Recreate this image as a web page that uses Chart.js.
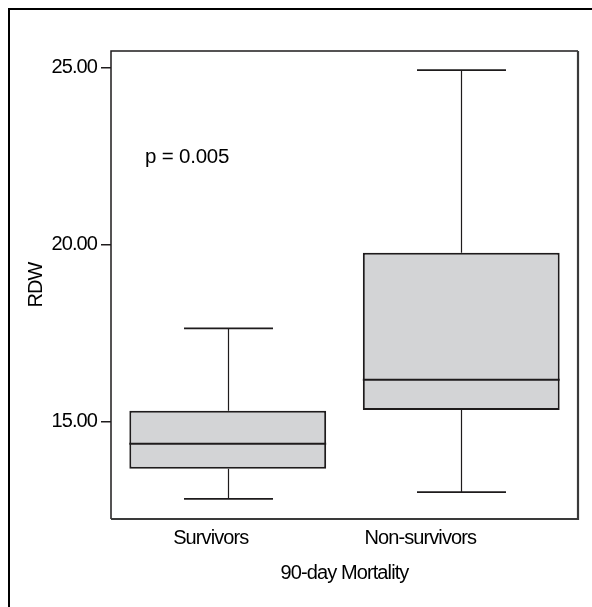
<!DOCTYPE html>
<html>
<head>
<meta charset="utf-8">
<title>RDW by 90-day Mortality</title>
<script src="https://cdn.jsdelivr.net/npm/chart.js@4/dist/chart.umd.min.js"></script>
<style>
  html, body { margin: 0; padding: 0; background: #fff; }
  #wrap { width: 592px; height: 607px; }
</style>
</head>
<body>
<div id="wrap"><canvas id="c" width="592" height="607"></canvas></div>
<script>
// RDW distribution per outcome group
const groups       = ['Survivors', 'Non-survivors'];
const whiskerLow   = [12.82, 13.01];
const quartile1    = [13.67, 15.33];
const medians      = [14.38, 16.19];
const quartile3    = [15.31, 19.78];
const whiskerHigh  = [17.64, 24.94];
const yTicks       = [15, 20, 25];
const pText        = 'p = 0.005';
const pTextLevel   = 22.3;

const INK = '#1e1b1c';
const TEXT = '#000';
const FONT = "'Liberation Sans', Arial, Helvetica, sans-serif";

const boxPlotMarks = {
  id: 'boxPlotMarks',
  beforeDraw(chart) {
    const ctx = chart.ctx;
    // tighter tracking gives the narrow look of the labels
    ctx.letterSpacing = '-0.9px';
    // panel border (left and top)
    ctx.save();
    ctx.strokeStyle = '#000';
    ctx.lineWidth = 2;
    ctx.beginPath();
    ctx.moveTo(9, chart.height);
    ctx.lineTo(9, 9);
    ctx.lineTo(chart.width, 9);
    ctx.stroke();
    ctx.restore();
  },
  afterDatasetsDraw(chart) {
    const ctx = chart.ctx;
    const y = chart.scales.y;
    const meta = chart.getDatasetMeta(0);
    ctx.save();
    ctx.strokeStyle = INK;
    meta.data.forEach((bar, i) => {
      const cx = Math.round(bar.x) + 0.5;
      const half = bar.width / 2;
      const capHalf = bar.width * 0.226;
      const yHi = y.getPixelForValue(whiskerHigh[i]);
      const yLo = y.getPixelForValue(whiskerLow[i]);
      const yQ3 = y.getPixelForValue(quartile3[i]);
      const yQ1 = y.getPixelForValue(quartile1[i]);
      const yMed = y.getPixelForValue(medians[i]);
      // whisker stems
      ctx.lineWidth = 1.2;
      ctx.beginPath();
      ctx.moveTo(cx, yQ3); ctx.lineTo(cx, yHi);
      ctx.moveTo(cx, yQ1); ctx.lineTo(cx, yLo);
      ctx.stroke();
      // caps
      ctx.lineWidth = 1.8;
      ctx.beginPath();
      ctx.moveTo(cx - capHalf, yHi); ctx.lineTo(cx + capHalf, yHi);
      ctx.moveTo(cx - capHalf, yLo); ctx.lineTo(cx + capHalf, yLo);
      ctx.stroke();
      // median
      ctx.lineWidth = 2;
      ctx.beginPath();
      ctx.moveTo(bar.x - half, yMed); ctx.lineTo(bar.x + half, yMed);
      ctx.stroke();
    });
    ctx.restore();
  },
  afterDraw(chart) {
    const ctx = chart.ctx;
    const a = chart.chartArea;
    const x = chart.scales.x;
    const y = chart.scales.y;
    ctx.save();
    // plot frame
    ctx.strokeStyle = INK;
    ctx.lineWidth = 1.5;
    ctx.beginPath();
    ctx.moveTo(a.left, a.bottom);
    ctx.lineTo(a.left, a.top);
    ctx.lineTo(a.right, a.top);
    ctx.stroke();
    ctx.strokeStyle = '#3a3a3a';
    ctx.lineWidth = 2.2;
    ctx.beginPath();
    ctx.moveTo(a.right, a.top);
    ctx.lineTo(a.right, a.bottom);
    ctx.lineTo(a.left, a.bottom);
    ctx.stroke();

    // category labels
    ctx.fillStyle = TEXT;
    ctx.font = '20px ' + FONT;
    ctx.textAlign = 'center';
    ctx.textBaseline = 'alphabetic';
    const labelShift = [-17, -41];
    groups.forEach((g, i) => {
      ctx.fillText(g, x.getPixelForValue(i) + labelShift[i], a.bottom + 25);
    });

    // significance note
    ctx.letterSpacing = '-0.2px';
    ctx.font = '20.5px ' + FONT;
    ctx.textAlign = 'left';
    ctx.fillText(pText, a.left + 34, y.getPixelForValue(pTextLevel));
    ctx.restore();
  }
};

new Chart(document.getElementById('c'), {
  type: 'bar',
  data: {
    labels: groups,
    datasets: [{
      label: 'RDW',
      data: groups.map((g, i) => [quartile1[i], quartile3[i]]),
      backgroundColor: '#d3d4d6',
      borderColor: INK,
      borderWidth: 2,
      borderSkipped: false,
      barPercentage: 0.843,
      categoryPercentage: 1
    }]
  },
  options: {
    responsive: false,
    animation: false,
    devicePixelRatio: 1,
    layout: { padding: { top: 51, right: 14, left: 14, bottom: 0 } },
    plugins: {
      legend: { display: false },
      tooltip: { enabled: false }
    },
    scales: {
      x: {
        type: 'category',
        grid: { display: false },
        border: { display: false },
        ticks: { display: false },
        title: {
          display: true,
          text: '90-day Mortality',
          color: TEXT,
          font: { family: FONT, size: 20 },
          padding: { top: 0, bottom: 22 }
        },
        afterFit(s) { s.height = 88; }
      },
      y: {
        min: 12.25,
        max: 25.48,
        border: { display: false },
        grid: {
          drawOnChartArea: false,
          drawTicks: true,
          tickLength: 10,
          color: INK,
          lineWidth: 1.5
        },
        ticks: {
          color: TEXT,
          padding: 4,
          font: { family: FONT, size: 20 },
          callback: v => Number(v).toFixed(2)
        },
        afterBuildTicks(s) { s.ticks = yTicks.map(v => ({ value: v })); },
        title: {
          display: true,
          text: 'RDW',
          color: TEXT,
          font: { family: FONT, size: 20 },
          padding: { top: 10, bottom: 0 }
        },
        afterFit(s) { s.width = 97; }
      }
    }
  },
  plugins: [boxPlotMarks]
});
</script>
</body>
</html>
